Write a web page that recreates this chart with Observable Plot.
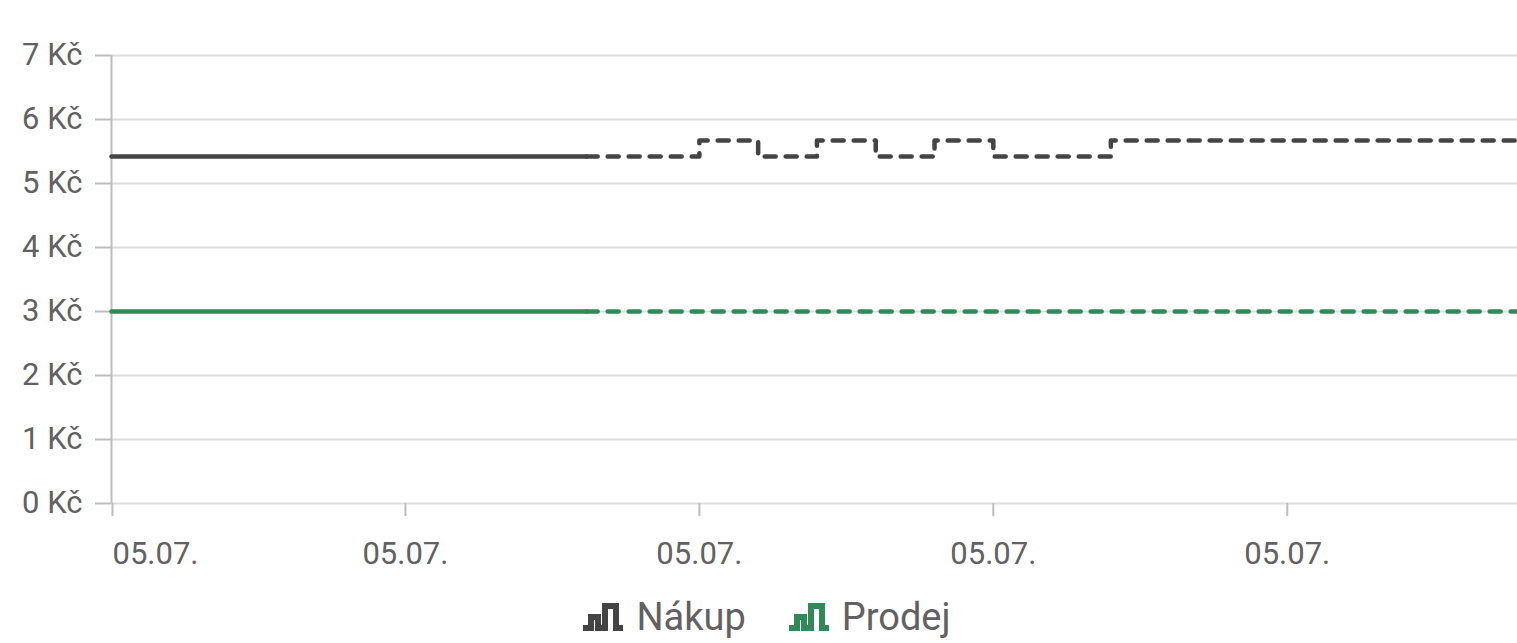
<!DOCTYPE html>
<html>
<head>
<meta charset="utf-8">
<script src="https://cdn.jsdelivr.net/npm/d3@7"></script>
<script src="https://cdn.jsdelivr.net/npm/@observablehq/plot@0.6"></script>
<style>
  html, body { margin: 0; padding: 0; background: #fff; }
  body { width: 1517px; height: 643px; overflow: hidden; font-family: Roboto, "Noto Sans", sans-serif; }
  #legend { display: flex; justify-content: center; align-items: center; gap: 42px; height: 53px; padding-left: 16px; box-sizing: border-box; }
  .item { display: flex; align-items: center; gap: 12px; font-size: 38px; color: #616161; }
  .item svg { display: block; }
</style>
</head>
<body>
<div id="chart"></div>
<div id="legend"></div>
<script>
// ---- data ----
const day = "2024-07-05";
const actualTimes = ["00:00", "01:37"];
const nakupActual = [5.42, 5.42];
const prodejActual = [3.0, 3.0];

const forecastTimes = ["01:37", "02:00", "02:12", "02:24", "02:36", "02:48", "03:00", "03:24", "04:47"];
const nakupForecast = [5.42, 5.67, 5.42, 5.67, 5.42, 5.67, 5.42, 5.67, 5.67];
const prodejForecast = [3.0, 3.0, 3.0, 3.0, 3.0, 3.0, 3.0, 3.0, 3.0];

const xTickTimes = ["00:00", "01:00", "02:00", "03:00", "04:00"];
const yTicks = [0, 1, 2, 3, 4, 5, 6, 7];
const seriesNames = ["Nákup", "Prodej"];
const seriesColors = ["#444444", "#2e8b57"];

// ---- build ----
const toDate = t => new Date(`${day}T${t}:00Z`);
const rows = (times, vals) => times.map((t, i) => ({ t: toDate(t), v: vals[i] }));
const nA = rows(actualTimes, nakupActual), pA = rows(actualTimes, prodejActual);
const nF = rows(forecastTimes, nakupForecast), pF = rows(forecastTimes, prodejForecast);
const xDomain = [toDate(actualTimes[0]), toDate(forecastTimes[forecastTimes.length - 1])];
const xTicks = xTickTimes.map(toDate);
const fmt = d3.utcFormat("%d.%m.");
const axisColor = "#bdbdbd";
const textColor = "#616161";

const chart = Plot.plot({
  width: 1517,
  height: 590,
  marginLeft: 111,
  marginRight: 0,
  marginTop: 55,
  marginBottom: 87,
  style: { fontFamily: "Roboto, sans-serif", fontSize: "31px", color: textColor, background: "#fff" },
  x: { type: "utc", domain: xDomain },
  y: { domain: [0, 7] },
  marks: [
    Plot.gridY(yTicks, { stroke: "#dddddd", strokeOpacity: 1, strokeWidth: 2 }),
    Plot.ruleX([xDomain[0]], { y1: 0, y2: 7, stroke: axisColor, strokeWidth: 2 }),
    Plot.axisY(yTicks, { tickSize: 16, tickPadding: 13, tickFormat: d => `${d} Kč`, stroke: axisColor, strokeWidth: 2, fill: textColor, label: null }),
    Plot.axisX(xTicks.slice(0, 1), { tickSize: 13, tickPadding: 25, tickFormat: fmt, textAnchor: "start", dx: 1, stroke: axisColor, strokeWidth: 2, fill: textColor, label: null }),
    Plot.axisX(xTicks.slice(1), { tickSize: 13, tickPadding: 25, tickFormat: fmt, stroke: axisColor, strokeWidth: 2, fill: textColor, label: null }),
    Plot.line(pA, { x: "t", y: "v", curve: "step-after", stroke: seriesColors[1], strokeWidth: 4.5 }),
    Plot.line(pF, { x: "t", y: "v", curve: "step-after", stroke: seriesColors[1], strokeWidth: 4.5, strokeDasharray: "11,10" }),
    Plot.line(nA, { x: "t", y: "v", curve: "step-after", stroke: seriesColors[0], strokeWidth: 4.5 }),
    Plot.line(nF, { x: "t", y: "v", curve: "step-after", stroke: seriesColors[0], strokeWidth: 4.5, strokeDasharray: "11,10" })
  ]
});
document.getElementById("chart").appendChild(chart);

// legend
const legend = document.getElementById("legend");
seriesNames.forEach((name, i) => {
  const item = document.createElement("div");
  item.className = "item";
  item.innerHTML = `<svg width="42" height="30" viewBox="0 0 42 30"><path d="M1 26 H9 V15 H16 V26 H23 V4 H34 V26 H41" fill="none" stroke="${seriesColors[i]}" stroke-width="6" stroke-linejoin="miter"/></svg><span>${name}</span>`;
  legend.appendChild(item);
});
</script>
</body>
</html>
